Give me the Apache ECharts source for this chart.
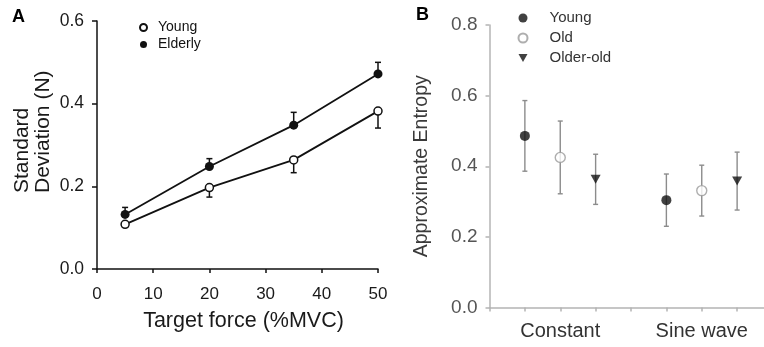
<!DOCTYPE html>
<html><head><meta charset="utf-8">
<script src="https://cdn.jsdelivr.net/npm/echarts@6/dist/echarts.min.js"></script>
<style>html,body{margin:0;padding:0;background:#fff}#c{width:764px;height:347px}</style>
</head><body><div id="c"></div>
<script>
// ---- Panel A data ----
const forceLevels = [5, 20, 35, 50];
const youngSD = [0.108, 0.197, 0.264, 0.382];
const youngSE = [0.006, 0.023, 0.031, 0.041];
const elderlySD = [0.132, 0.248, 0.348, 0.472];
const elderlySE = [0.017, 0.019, 0.031, 0.028];
const panelATicksY = [0, 0.2, 0.4, 0.6];
const panelATicksX = [0, 10, 20, 30, 40, 50];

// ---- Panel B data ----
const taskTypes = ['Constant', 'Sine wave'];
const groupNames = ['Young', 'Old', 'Older-old'];
const youngApEn = [0.486, 0.304];
const youngApEnSD = [0.100, 0.074];
const oldApEn = [0.425, 0.331];
const oldApEnSD = [0.103, 0.072];
const olderOldApEn = [0.363, 0.358];
const olderOldApEnSD = [0.071, 0.082];
const panelBTicksY = [0, 0.2, 0.4, 0.6, 0.8];

const FONT = '"Liberation Sans", Arial, Helvetica, sans-serif';

function errRender(capHalf, color, lw, caps) {
  return function (params, api) {
    const x = api.value(0), lo = api.value(1), hi = api.value(2);
    const p1 = api.coord([x, lo]), p2 = api.coord([x, hi]);
    const st = { stroke: color, lineWidth: lw };
    const ch = [{ type: 'line', shape: { x1: p1[0], y1: p1[1], x2: p2[0], y2: p2[1] }, style: st }];
    if (caps === 'lo' || caps === 'both') ch.push({ type: 'line', shape: { x1: p1[0] - capHalf, y1: p1[1], x2: p1[0] + capHalf, y2: p1[1] }, style: st });
    if (caps === 'hi' || caps === 'both') ch.push({ type: 'line', shape: { x1: p2[0] - capHalf, y1: p2[1], x2: p2[0] + capHalf, y2: p2[1] }, style: st });
    return { type: 'group', children: ch };
  };
}

// Panel A series data
const youngLine = forceLevels.map((x, i) => [x, youngSD[i]]);
const elderlyLine = forceLevels.map((x, i) => [x, elderlySD[i]]);
const youngErr = forceLevels.map((x, i) => [x, youngSD[i] - youngSE[i], youngSD[i]]);
const elderlyErr = forceLevels.map((x, i) => [x, elderlySD[i], elderlySD[i] + elderlySE[i]]);

// Panel B positions: each task gets three slots
const bValues = [youngApEn, oldApEn, olderOldApEn];
const bSDs = [youngApEnSD, oldApEnSD, olderOldApEnSD];
const bPoints = bValues.map((vals, g) => vals.map((v, t) => [t * 4 + g + 1, v]));
const bErr = [];
bValues.forEach((vals, g) => vals.forEach((v, t) => {
  bErr.push([t * 4 + g + 1, v - bSDs[g][t], v + bSDs[g][t]]);
}));

const chart = echarts.init(document.getElementById('c'), null, { renderer: 'canvas' });

const axA = { color: '#111', width: 1.5 };
const axB = { color: '#b4b4b4', width: 1.5 };

chart.setOption({
  animation: false,
  textStyle: { fontFamily: FONT },
  grid: [
    { left: 97, top: 21, width: 281, height: 248, outerBoundsMode: 'none', containLabel: false },
    { left: 489.5, top: 25, width: 283, height: 282.5, outerBoundsMode: 'none', containLabel: false }
  ],
  xAxis: [
    {
      gridIndex: 0, type: 'value', min: panelATicksX[0], max: panelATicksX[panelATicksX.length - 1], interval: 10,
      axisLine: { lineStyle: axA }, axisTick: { length: 4, lineStyle: axA },
      axisLabel: { fontSize: 17, color: '#1a1a1a', margin: 17, fontFamily: FONT },
      splitLine: { show: false }
    },
    {
      gridIndex: 1, type: 'value', min: 0, max: 8, interval: 1,
      axisLine: { lineStyle: axB }, axisTick: { length: 4, lineStyle: axB },
      axisLabel: {
        fontSize: 20, color: '#333', margin: 14, fontFamily: FONT, showMaxLabel: false,
        formatter: v => { const i = (v - 2) / 4; return Number.isInteger(i) && taskTypes[i] ? taskTypes[i] : ''; }
      },
      splitLine: { show: false }
    }
  ],
  yAxis: [
    {
      gridIndex: 0, type: 'value', min: panelATicksY[0], max: panelATicksY[panelATicksY.length - 1], interval: 0.2,
      axisLine: { show: true, lineStyle: axA }, axisTick: { show: true, length: 5, lineStyle: axA },
      axisLabel: { fontSize: 17.5, color: '#1a1a1a', margin: 13, fontFamily: FONT, formatter: v => v.toFixed(1) },
      splitLine: { show: false }
    },
    {
      gridIndex: 1, type: 'value', min: panelBTicksY[0], max: panelBTicksY[panelBTicksY.length - 1], interval: 0.2,
      axisLine: { show: true, lineStyle: axB }, axisTick: { show: true, length: 4, lineStyle: axB },
      axisLabel: { fontSize: 19, color: '#555', margin: 12, fontFamily: FONT, formatter: v => v.toFixed(1) },
      splitLine: { show: false },
      name: 'Approximate Entropy', nameLocation: 'middle', nameRotate: 90, nameGap: 58,
      nameTextStyle: { fontSize: 19.5, color: '#3a3a3a', fontFamily: FONT }
    }
  ],
  legend: [
    {
      orient: 'vertical', left: 134, top: 14, itemWidth: 7, itemHeight: 7, itemGap: 0,
      icon: 'circle', data: ['Young ', 'Elderly'],
      textStyle: { fontSize: 14, color: '#111', lineHeight: 17, padding: [0, 0, 0, 6], fontFamily: FONT }
    },
    {
      orient: 'vertical', left: 512.5, top: 3, itemWidth: 9, itemHeight: 9, itemGap: 0,
      data: groupNames,
      textStyle: { fontSize: 15, color: '#333', lineHeight: 20, padding: [0, 0, 0, 17], fontFamily: FONT }
    }
  ],
  graphic: [
    { type: 'text', left: 12, top: 8, style: { text: 'A', font: 'bold 18px ' + FONT, fill: '#000' } },
    { type: 'text', left: 416, top: 6, style: { text: 'B', font: 'bold 18px ' + FONT, fill: '#000' } },
    {
      type: 'text', x: 33, y: 193, rotation: Math.PI / 2,
      style: { text: 'Standard\nDeviation (N)', font: '21px ' + FONT, fill: '#1a1a1a', align: 'left', verticalAlign: 'middle', lineHeight: 21 }
    },
    {
      type: 'text', x: 243.5, y: 321,
      style: { text: 'Target force (%MVC)', font: '21.5px ' + FONT, fill: '#1a1a1a', align: 'center', verticalAlign: 'middle' }
    }
  ],
  series: [
    { type: 'custom', name: 'errY', xAxisIndex: 0, yAxisIndex: 0, z: 1, renderItem: errRender(3, '#111', 1.5, 'lo'), data: youngErr },
    { type: 'custom', name: 'errE', xAxisIndex: 0, yAxisIndex: 0, z: 1, renderItem: errRender(3, '#111', 1.5, 'hi'), data: elderlyErr },
    {
      type: 'line', name: 'Young ', xAxisIndex: 0, yAxisIndex: 0, z: 3, data: youngLine,
      symbol: 'circle', symbolSize: 8, lineStyle: { color: '#111', width: 1.8 },
      itemStyle: { color: '#fff', borderColor: '#111', borderWidth: 1.5 }
    },
    {
      type: 'line', name: 'Elderly', xAxisIndex: 0, yAxisIndex: 0, z: 3, data: elderlyLine,
      symbol: 'circle', symbolSize: 9, lineStyle: { color: '#111', width: 1.8 },
      itemStyle: { color: '#111', borderColor: '#111', borderWidth: 0 }
    },
    { type: 'custom', name: 'errB', xAxisIndex: 1, yAxisIndex: 1, z: 1, renderItem: errRender(2.5, '#8c8c8c', 1.4, 'both'), data: bErr },
    {
      type: 'scatter', name: groupNames[0], xAxisIndex: 1, yAxisIndex: 1, z: 3, data: bPoints[0],
      symbol: 'circle', symbolSize: 10, itemStyle: { color: '#111' }
    },
    {
      type: 'scatter', name: groupNames[1], xAxisIndex: 1, yAxisIndex: 1, z: 3, data: bPoints[1],
      symbol: 'circle', symbolSize: 10, itemStyle: { color: '#fff', borderColor: '#9a9a9a', borderWidth: 1.4 }
    },
    {
      type: 'scatter', name: groupNames[2], xAxisIndex: 1, yAxisIndex: 1, z: 3, data: bPoints[2],
      symbol: 'path://M0,0L10,0L5,9Z', symbolSize: [10, 9], itemStyle: { color: '#111' }
    }
  ]
});
</script></body></html>
